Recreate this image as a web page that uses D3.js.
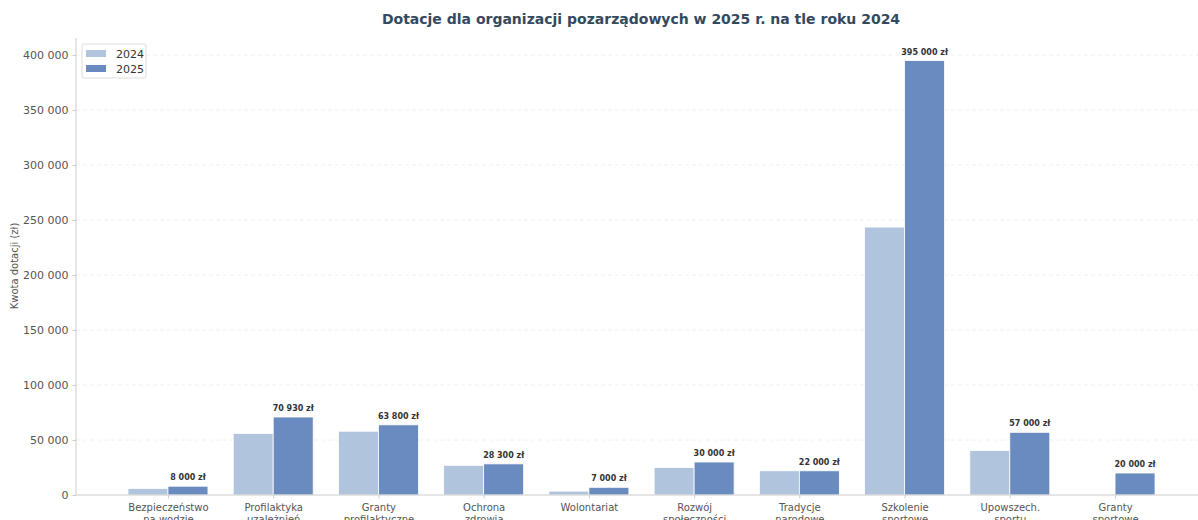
<!DOCTYPE html>
<html>
<head>
  <meta charset="utf-8">
  <title>Dotacje NGO 2025 vs 2024</title>
  <script src="https://cdn.jsdelivr.net/npm/d3@7"></script>
  <style type="text/css">
    body {
      margin: 0;
      background: #fff;
      font-family: "DejaVu Sans", sans-serif;
    }
    .axis text {
      fill: #555;
    }
    .axis path,
    .axis line {
      stroke: #ccc;
    }
  </style>
</head>
<body>
  <svg id="chart" width="1198" height="520"></svg>
  <script type="text/javascript">

  const categories = [
    ["Bezpieczeństwo", "na wodzie"],
    ["Profilaktyka", "uzależnień"],
    ["Granty", "profilaktyczne"],
    ["Ochrona", "zdrowia"],
    ["Wolontariat"],
    ["Rozwój", "społeczności"],
    ["Tradycje", "narodowe"],
    ["Szkolenie", "sportowe"],
    ["Upowszech.", "sportu"],
    ["Granty", "sportowe"]
  ];
  const values2024 = [6000, 56000, 58000, 27000, 3500, 25000, 22000, 243600, 40500, 0];
  const values2025 = [8000, 70930, 63800, 28300, 7000, 30000, 22000, 395000, 57000, 20000];
  const yTicks = [0, 50000, 100000, 150000, 200000, 250000, 300000, 350000, 400000];
  const seriesNames = ["2024", "2025"];
  const colors = ["#b0c4de", "#6a8bc0"];

  const svg = d3.select('#chart');
  const fmt = (v) => d3.format(",")(v).replace(/,/g, " ");

  // x is a linear scale on category index (matplotlib-like)
  const x = d3.scaleLinear().domain([-0.874, 9.874]).range([76, 1207]);
  const y = d3.scaleLinear().domain([0, 415500]).range([495, 38]);
  const bw = 0.38;

  // grid
  svg.append('g').selectAll('line').data(yTicks.slice(1)).enter().append('line')
    .attr('x1', 76).attr('x2', 1198)
    .attr('y1', (d) => y(d)).attr('y2', (d) => y(d))
    .attr('stroke', '#ececec').attr('stroke-dasharray', '4,3').attr('stroke-width', 0.8);

  // bars
  const series = [values2024, values2025];
  series.forEach((vals, s) => {
    svg.append('g').selectAll('rect').data(vals).enter().append('rect')
      .attr('x', (d, i) => x(i - bw + s * bw))
      .attr('width', x(bw) - x(0))
      .attr('y', (d) => y(d))
      .attr('height', (d) => y(0) - y(d))
      .attr('fill', colors[s])
      .attr('stroke', d => d > 0 ? '#fff' : 'none')
      .attr('stroke-width', 0.8);
  });

  // value labels above 2025 bars
  svg.append('g').selectAll('text').data(values2025).enter().append('text')
    .attr('x', (d, i) => x(i + bw / 2))
    .attr('y', (d) => y(d) - 6)
    .attr('text-anchor', 'middle')
    .attr('font-size', 8)
    .attr('font-weight', 'bold')
    .attr('fill', '#333')
    .text((d) => fmt(d) + " zł");

  // y axis
  const yAxis = svg.append('g').attr('class', 'axis')
    .attr('font-family', '"DejaVu Sans", sans-serif')
    .attr('transform', 'translate(76,0)')
    .call(d3.axisLeft(y).tickValues(yTicks).tickFormat(fmt).tickSizeOuter(0).tickSize(3.5).tickPadding(4));
  yAxis.attr('font-family', '"DejaVu Sans", sans-serif');
  yAxis.selectAll('text').attr('font-size', 11);
  yAxis.select('.domain').attr('d', `M0,${y(0)}V38`);

  // x axis
  const xAxis = svg.append('g').attr('class', 'axis')
    .attr('transform', `translate(0,${y(0)})`)
    .call(d3.axisBottom(x).tickValues(d3.range(categories.length)).tickFormat('').tickSizeOuter(0).tickSize(3.5));
  xAxis.attr('font-family', '"DejaVu Sans", sans-serif');
  xAxis.select('.domain').attr('d', 'M76,0H1198');
  xAxis.selectAll('.tick').each(function(d) {
    const t = d3.select(this).append('text')
      .attr('text-anchor', 'middle')
      .attr('font-size', 10)
      .attr('fill', '#555')
      .attr('y', 16);
    categories[d].forEach((line, k) => {
      t.append('tspan').attr('x', 0).attr('dy', k === 0 ? 0 : 12).text(line);
    });
  });

  // y label
  svg.append('text')
    .attr('transform', 'translate(18,266) rotate(-90)')
    .attr('text-anchor', 'middle')
    .attr('font-size', 10)
    .attr('fill', '#555')
    .text('Kwota dotacji (zł)');

  // title
  svg.append('text')
    .attr('x', 641).attr('y', 24)
    .attr('text-anchor', 'middle')
    .attr('font-size', 14)
    .attr('font-weight', 'bold')
    .attr('fill', '#34495e')
    .text('Dotacje dla organizacji pozarządowych w 2025 r. na tle roku 2024');

  // legend
  const lg = svg.append('g').attr('transform', 'translate(82,44)');
  lg.append('rect').attr('width', 64).attr('height', 34).attr('rx', 2)
    .attr('fill', '#fff').attr('fill-opacity', 0.8).attr('stroke', '#ddd');
  seriesNames.forEach((name, i) => {
    lg.append('rect').attr('x', 4).attr('y', 6 + i * 15).attr('width', 20).attr('height', 7).attr('fill', colors[i]);
    lg.append('text').attr('x', 34).attr('y', 14 + i * 15)
      .attr('font-size', 11).attr('fill', '#333').text(name);
  });
  </script>
</body>
</html>
